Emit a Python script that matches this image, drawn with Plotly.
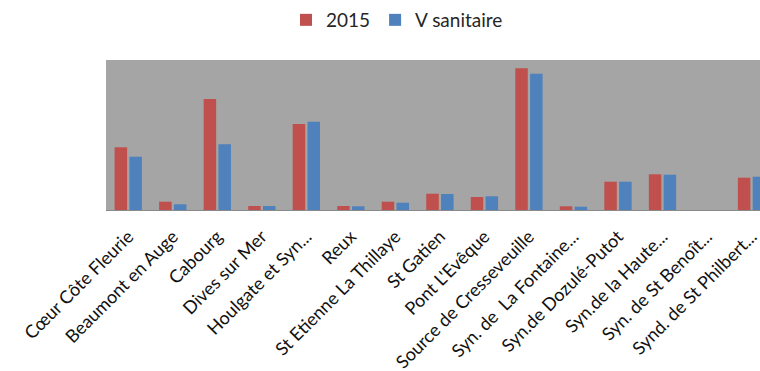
import plotly.graph_objects as go

categories = ["Cœur Côte Fleurie", "Beaumont en Auge", "Cabourg", "Dives sur Mer",
              "Houlgate et Syn...", "Reux", "St Etienne La Thillaye", "St Gatien",
              "Pont L'Evêque", "Source de Cresseveuille", "Syn. de  La Fontaine...",
              "Syn.de Dozulé-Putot", "Syn.de la Haute...", "Syn. de St Benoît...",
              "Synd. de St Philbert..."]
v2015 = [62.7, 8.3, 111, 4, 86, 4, 8.3, 16.3, 13, 141.7, 3.7, 28.3, 35.7, 0, 32.3]
vsanitaire = [53.3, 5.7, 65.7, 4, 88.3, 3.7, 7.3, 16, 13.7, 136.3, 3.3, 28.3, 35.3, 0, 33.3]

FONT = "Lato"
W, H = 760, 371

fig = go.Figure()
fig.add_trace(go.Bar(x=categories, y=v2015, name="2015", marker_color="#c0504d",
                     marker_line_width=0))
fig.add_trace(go.Bar(x=categories, y=vsanitaire, name="V sanitaire", marker_color="#4f81bd",
                     marker_line_width=0))

fig.update_layout(
    width=W, height=H,
    margin=dict(l=106, r=0, t=60, b=H - 210),
    paper_bgcolor="white",
    plot_bgcolor="#a5a5a5",
    barmode="group",
    bargap=0.335,
    bargroupgap=0.155,
    showlegend=True,
    legend=dict(orientation="h", x=286 / W, xref="container", xanchor="left",
                y=1 - 20 / H, yref="container", yanchor="middle",
                font=dict(family=FONT, size=19, color="#262626"),
                itemclick=False, traceorder="normal"),
    font=dict(family=FONT, size=18, color="#000000"),
)
fig.update_xaxes(
    range=[-0.5, 14.19], tickangle=-45, showline=True, linecolor="#8a8a8a", linewidth=1,
    showgrid=False, ticks="outside", ticklen=8, tickcolor="rgba(0,0,0,0)", automargin=False,
    tickfont=dict(family=FONT, size=18, color="#111111"),
)
fig.update_yaxes(range=[0, 150], showticklabels=False, showgrid=False, zeroline=False,
                 showline=False, ticks="")

fig.write_html("out.html", config={"displayModeBar": False},
               post_script="document.body.style.margin='0';document.body.style.overflow='hidden';")
